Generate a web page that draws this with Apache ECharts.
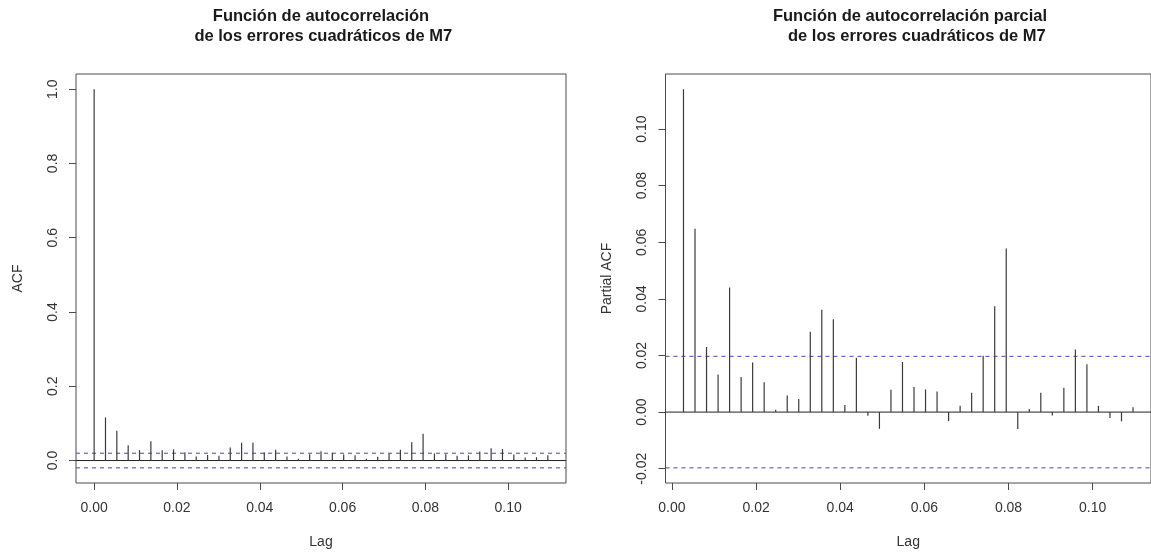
<!DOCTYPE html>
<html>
<head>
<meta charset="utf-8">
<script src="https://cdn.jsdelivr.net/npm/echarts@6/dist/echarts.min.js"></script>
<style>
  html, body { margin: 0; padding: 0; background: #ffffff; }
  #chart { width: 1151px; height: 554px; }
</style>
</head>
<body>
<div id="chart"></div>
<script>
// Daily series (frequency 365): lags are expressed in years.
const lagUnit = 365;

// Autocorrelation of the squared residuals of M7, lags 0..40
const acfValues = [
  1.000, 0.116, 0.080, 0.041, 0.028, 0.052, 0.028, 0.030, 0.022, 0.011,
  0.015, 0.013, 0.035, 0.048, 0.048, 0.022, 0.029, 0.011, 0.005, 0.017,
  0.025, 0.021, 0.016, 0.014, 0.005, 0.010, 0.018, 0.029, 0.049, 0.072,
  0.019, 0.017, 0.013, 0.014, 0.024, 0.033, 0.031, 0.016, 0.008, 0.009,
  0.014
];

// Partial autocorrelation of the squared residuals of M7, lags 1..40
const pacfValues = [
  0.1141, 0.0648, 0.0230, 0.0133, 0.0440, 0.0124, 0.0175, 0.0105, 0.0008, 0.0059,
  0.0046, 0.0284, 0.0362, 0.0328, 0.0025, 0.0192, -0.0013, -0.0059, 0.0079, 0.0177,
  0.0089, 0.0080, 0.0073, -0.0032, 0.0022, 0.0068, 0.0199, 0.0374, 0.0578, -0.0060,
  0.0011, 0.0068, -0.0012, 0.0086, 0.0221, 0.0169, 0.0022, -0.0021, -0.0033, 0.0017
];

// 95% confidence bound (1.96 / sqrt(n))
const clim = 0.0197;

// Tick labels
const xTicks = [0.00, 0.02, 0.04, 0.06, 0.08, 0.10];
const acfYTicks = [0.0, 0.2, 0.4, 0.6, 0.8, 1.0];
const pacfYTicks = [-0.02, 0.00, 0.02, 0.04, 0.06, 0.08, 0.10];

const titles = {
  acf: ['Función de autocorrelación', ' de los errores cuadráticos de M7'],
  pacf: ['Función de autocorrelación parcial', '   de los errores cuadráticos de M7']
};

// (lag, value) pairs
const acfData = acfValues.map((v, k) => [k / lagUnit, v]);
const pacfData = pacfValues.map((v, k) => [(k + 1) / lagUnit, v]);

// Axis range padded by 4% on each side
function padRange(values) {
  const lo = Math.min.apply(null, values), hi = Math.max.apply(null, values);
  const d = (hi - lo) * 0.04;
  return [lo - d, hi + d];
}
const acfX = padRange(acfData.map(d => d[0]));
const pacfX = padRange(pacfData.map(d => d[0]));
const acfY = padRange(acfValues.concat([-clim, clim]));
const pacfY = padRange(pacfValues.concat([-clim, clim]));

const FONT = 'Liberation Sans, Arial, sans-serif';
const INK = '#333333';
const BOX = '#4a4a4a';
const BLUE = '#4646b4';

function xAxisFor(gridIndex, range) {
  return {
    type: 'value', gridIndex: gridIndex, min: range[0], max: range[1],
    name: 'Lag', nameLocation: 'middle', nameGap: 52,
    nameTextStyle: { fontFamily: FONT, fontSize: 14, color: INK },
    axisLine: { show: false, onZero: false },
    axisTick: { show: true, length: 7, customValues: xTicks, lineStyle: { color: BOX, width: 1 } },
    axisLabel: {
      customValues: xTicks, margin: 18, fontFamily: FONT, fontSize: 14, color: INK,
      formatter: v => v.toFixed(2)
    },
    splitLine: { show: false }
  };
}

function yAxisFor(gridIndex, range, ticks, digits, name) {
  return {
    type: 'value', gridIndex: gridIndex, min: range[0], max: range[1],
    name: name, nameLocation: 'middle', nameGap: 51,
    nameTextStyle: { fontFamily: FONT, fontSize: 14, color: INK },
    axisLine: { show: false, onZero: false },
    axisTick: { show: true, length: 7, customValues: ticks, lineStyle: { color: BOX, width: 1 } },
    axisLabel: {
      customValues: ticks, rotate: 90, margin: 16, fontFamily: FONT, fontSize: 14, color: INK,
      formatter: v => v.toFixed(digits)
    },
    splitLine: { show: false }
  };
}

// Vertical spikes from zero, as in a correlogram
function spikeSeries(axisIndex, data) {
  return {
    type: 'custom', xAxisIndex: axisIndex, yAxisIndex: axisIndex,
    data: data, animation: false, silent: true, z: 3,
    renderItem: function (params, api) {
      const x = api.value(0), y = api.value(1);
      const p0 = api.coord([x, 0]);
      const p1 = api.coord([x, y]);
      return {
        type: 'line',
        shape: { x1: p0[0], y1: p0[1], x2: p1[0], y2: p1[1] },
        style: { stroke: '#3a3a3a', lineWidth: 1.2 }
      };
    }
  };
}

// Horizontal reference line across the whole plot width
function hLine(axisIndex, xRange, y, color, dashed) {
  return {
    type: 'line', xAxisIndex: axisIndex, yAxisIndex: axisIndex,
    data: [[xRange[0], y], [xRange[1], y]],
    symbol: 'none', silent: true, animation: false, z: 2,
    lineStyle: { color: color, width: 1, type: dashed ? [4, 4] : 'solid' }
  };
}

function titleLine(text, x, y) {
  return {
    text: text, left: x, top: y, textAlign: 'center', padding: 0,
    textStyle: { fontFamily: FONT, fontSize: 16.5, fontWeight: 'bold', color: '#1a1a1a' }
  };
}

const chart = echarts.init(document.getElementById('chart'), null, { renderer: 'canvas' });
chart.setOption({
  backgroundColor: '#ffffff',
  animation: false,
  title: [
    titleLine(titles.acf[0], 321, 8),
    titleLine(titles.acf[1], 321, 28),
    titleLine(titles.pacf[0], 910, 8),
    titleLine(titles.pacf[1], 910, 28)
  ],
  grid: [
    { left: 76, top: 74, width: 490, height: 409, show: true, borderColor: BOX, borderWidth: 1, backgroundColor: 'transparent' },
    { left: 665.5, top: 74, width: 490, height: 409, show: true, borderColor: BOX, borderWidth: 1, backgroundColor: 'transparent' }
  ],
  xAxis: [xAxisFor(0, acfX), xAxisFor(1, pacfX)],
  yAxis: [
    yAxisFor(0, acfY, acfYTicks, 1, 'ACF'),
    yAxisFor(1, pacfY, pacfYTicks, 2, 'Partial ACF')
  ],
  series: [
    hLine(0, acfX, 0, '#222222', false),
    hLine(0, acfX, clim, BLUE, true),
    hLine(0, acfX, -clim, BLUE, true),
    spikeSeries(0, acfData),
    hLine(1, pacfX, 0, '#222222', false),
    hLine(1, pacfX, clim, BLUE, true),
    hLine(1, pacfX, -clim, BLUE, true),
    spikeSeries(1, pacfData)
  ]
});
</script>
</body>
</html>
